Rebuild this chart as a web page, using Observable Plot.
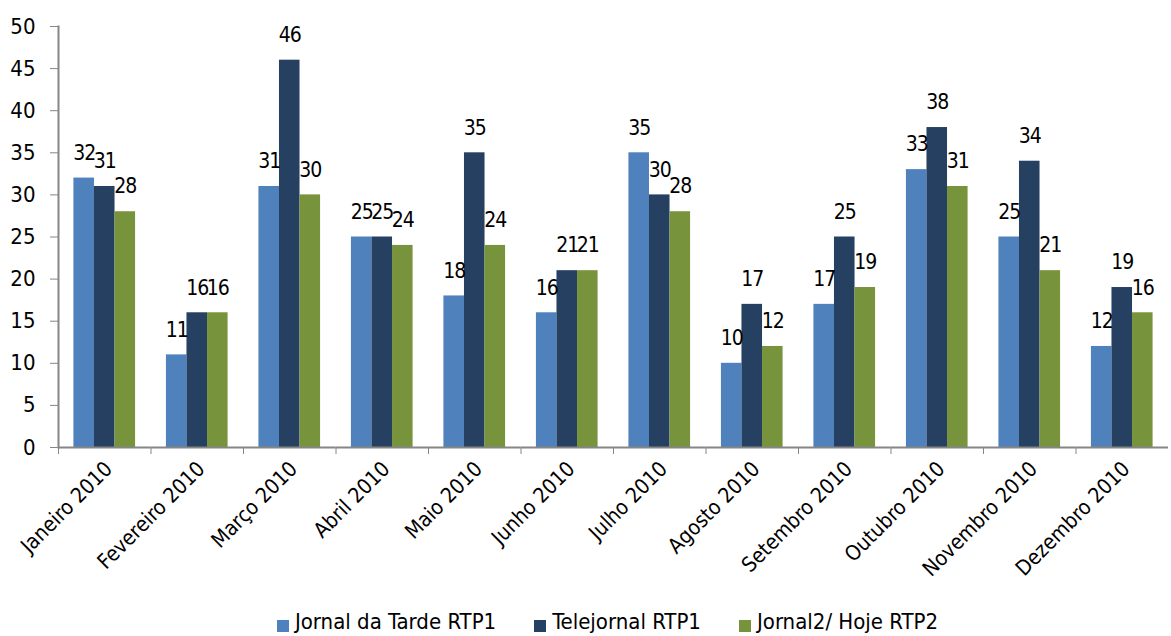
<!DOCTYPE html>
<html>
<head>
<meta charset="utf-8">
<script src="https://cdn.jsdelivr.net/npm/d3@7"></script>
<script src="https://cdn.jsdelivr.net/npm/@observablehq/plot@0.6"></script>
<style>
  html, body { margin: 0; padding: 0; background: #fff; overflow: hidden; }
  body { width: 1171px; height: 636px; position: relative; font-family: "DejaVu Sans Condensed", "Liberation Sans Narrow", "Arial Narrow", sans-serif; font-stretch: condensed; }
  svg text { font-stretch: condensed; }
  g[aria-label="text"] text { letter-spacing: -1px; }
  #legend { position: absolute; left: 22px; width: 1171px; top: 609px; display: flex; justify-content: center; font-size: 22px; line-height: 26px; color: #000; white-space: nowrap; }
  .item { display: flex; align-items: flex-start; margin: 0 19px; }
  .sw { width: 12px; height: 12px; margin-right: 6px; margin-top: 11px; }
</style>
</head>
<body>
<div id="chart"></div>
<div id="legend"></div>
<script>
const months = ["Janeiro 2010","Fevereiro 2010","Março 2010","Abril 2010","Maio 2010","Junho 2010","Julho 2010","Agosto 2010","Setembro 2010","Outubro 2010","Novembro 2010","Dezembro 2010"];
const seriesNames = ["Jornal da Tarde RTP1","Telejornal RTP1","Jornal2/ Hoje RTP2"];
const jornalTarde = [32,11,31,25,18,16,35,10,17,33,25,12];
const telejornal = [31,16,46,25,35,21,30,17,25,38,34,19];
const jornal2 = [28,16,30,24,24,21,28,12,19,31,21,16];
const yTicks = [0,5,10,15,20,25,30,35,40,45,50];
const colors = ["#4F81BD","#254061","#77933C"];

const seriesValues = [jornalTarde, telejornal, jornal2];
const data = [];
months.forEach((m, i) => seriesValues.forEach((vals, s) => data.push({month: m, series: seriesNames[s], value: vals[i]})));

const font = '"DejaVu Sans Condensed", "Liberation Sans Narrow", "Arial Narrow", sans-serif';
const chart = Plot.plot({
  width: 1171,
  height: 608,
  marginTop: 26,
  marginBottom: 161,
  marginLeft: 58,
  marginRight: 3,
  style: {fontFamily: font, fontSize: "22px", color: "#000", background: "#fff"},
  fx: {domain: months, padding: 0, round: false, label: null},
  x: {domain: seriesNames, paddingInner: 0, paddingOuter: 0.75, round: false, axis: null},
  y: {domain: [0, 50], label: null},
  color: {domain: seriesNames, range: colors},
  marks: [
    Plot.barY(data, {fx: "month", x: "series", y: "value", fill: "series"}),
    Plot.text(data, {fx: "month", x: "series", y: "value", text: d => String(d.value), dy: -25, fontSize: 21, fill: "#000"}),
    Plot.ruleY([0], {stroke: "#868686", strokeWidth: 2}),
    Plot.frame({anchor: "left", facet: "super", stroke: "#868686", strokeWidth: 2}),
    Plot.axisY({ticks: yTicks, tickSize: 8, tickPadding: 15, stroke: "#868686", fontSize: 22, fill: "#000", label: null}),
    Plot.axisFx({anchor: "bottom", tickSize: 7, dx: -46.25, tickFormat: () => "", stroke: "#868686", label: null}),
    Plot.axisFx({anchor: "bottom", tickSize: 0, tickPadding: 18, dx: 4, tickRotate: -45, fontSize: 21, fill: "#000", label: null})
  ]
});
document.getElementById("chart").appendChild(chart);

const legend = document.getElementById("legend");
seriesNames.forEach((name, i) => {
  const it = document.createElement("div");
  it.className = "item";
  const sw = document.createElement("div");
  sw.className = "sw";
  sw.style.background = colors[i];
  const t = document.createElement("span");
  t.textContent = name;
  it.appendChild(sw); it.appendChild(t);
  legend.appendChild(it);
});
</script>
</body>
</html>
